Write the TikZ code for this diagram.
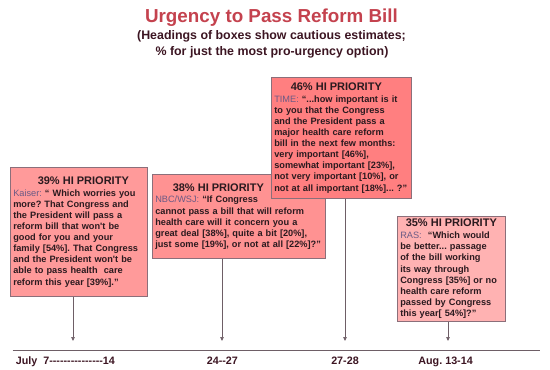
\documentclass[tikz,border=0pt]{standalone}
\usepackage{fontspec}
\usetikzlibrary{arrows.meta}
\newfontfamily\lsans{Liberation Sans}
\setlength{\parindent}{0pt}
\frenchspacing
\definecolor{titlered}{HTML}{C4424E}
\definecolor{subtxt}{HTML}{3C1522}
\definecolor{bodytxt}{HTML}{2B1A1F}
\definecolor{srcgray}{HTML}{6B5A85}
\definecolor{boxline}{HTML}{8B6F7A}
\definecolor{axisgray}{HTML}{6E5E66}
\definecolor{kaiserpink}{HTML}{FF9A9A}
\definecolor{nbcpink}{HTML}{FF9292}
\definecolor{timepink}{HTML}{FF7F80}
\definecolor{raspink}{HTML}{FFB2B2}
% heading of a box, optional shift
\newcommand\hd[2][0pt]{{\centering\fontsize{11}{13}\selectfont\hspace*{#1}#2\hspace*{-#1}\par}\vspace{0.8pt}}
\newcommand\src[1]{{\mdseries\color{srcgray}#1}}
% plain hyphen, no dash ligature
\newcommand\hy{-\kern0pt}
\begin{document}
\begin{tikzpicture}[x=1pt,y=-1pt,
  box/.style={draw=boxline, line width=0.6pt, anchor=north west, align=left,
    inner xsep=3pt, inner ysep=0pt, text=bodytxt,
    font=\lsans\bfseries\fontsize{9.2}{11.1}\selectfont},
  conn/.style={draw=axisgray, line width=0.7pt, -{Triangle[length=4pt,width=3.5pt]}},
  datelbl/.style={anchor=base, text=subtxt, font=\lsans\bfseries\fontsize{10.75}{13}\selectfont}]
\useasboundingbox (0,0) rectangle (550,370);
% title
\node[anchor=base, text=titlered, font=\lsans\bfseries\fontsize{18.8}{22}\selectfont] (title) at (271.5,22.8) {Urgency to Pass Reform Bill};
\node[anchor=base, text=subtxt, font=\lsans\bfseries\fontsize{12.4}{15}\selectfont] (sub1) at (271.5,39.6) {(Headings of boxes show cautious estimates;};
\node[anchor=base, text=subtxt, font=\lsans\bfseries\fontsize{12.4}{15}\selectfont] (sub2) at (272,55.4) {\% for just the most pro\hy urgency option)};
% poll boxes
\node[box, fill=kaiserpink, text width=131pt, minimum height=129pt] (kaiser) at (10,167) {\hd[4.5pt]{39\% HI PRIORITY}\src{Kaiser:} “ Which worries you\\ more? That Congress and\\ the President will pass a\\ reform bill that won't be\\ good for you and your\\ family [54\%]. That Congress\\ and the President won't be\\ able to pass health\ \ care\\ reform this year [39\%].”};
\node[box, fill=nbcpink, text width=167pt, minimum height=84pt] (nbc) at (152,174) {\hd[-20.5pt]{38\% HI PRIORITY}\src{NBC/WSJ:} “If Congress\\ cannot pass a bill that will reform\\ health care will it concern you a\\ great deal [38\%], quite a bit [20\%],\\ just some [19\%], or not at all [22\%]?”};
\node[box, fill=timepink, text width=134pt, minimum height=121pt] (time) at (271,77) {\hd[-5pt]{46\% HI PRIORITY}\src{TIME:} “...how important is it\\ to you that the Congress\\ and the President pass a\\ major health care reform\\ bill in the next few months:\\ very important [46\%],\\ somewhat important [23\%],\\ not very important [10\%], or\\ not at all important [18\%]... ?”};
\node[box, fill=raspink, text width=102pt, minimum height=105pt] (ras) at (397,216) {\hd{35\% HI PRIORITY}\src{RAS:}\ \ “Which would\\ be better... passage\\ of the bill working\\ its way through\\ Congress [35\%] or no\\ health care reform\\ passed by Congress\\ this year[ 54\%]?”};
% time axis
\coordinate (axl) at (12.6,350);
\coordinate (axr) at (540,350);
\draw[axisgray, line width=0.8pt] (axl) -- (axr);
\coordinate (t1) at (73,341);
\coordinate (t2) at (222,341);
\coordinate (t3) at (345,341);
\coordinate (t4) at (448,341);
\draw[conn] (kaiser.south -| t1) -- (t1);
\draw[conn] (nbc.south -| t2) -- (t2);
\draw[conn] (time.south -| t3) -- (t3);
\draw[conn] (ras.south -| t4) -- (t4);
\node[datelbl] (d1) at (65.4,364.5) {July\ \ 7\hy\hy\hy\hy\hy\hy\hy\hy\hy\hy\hy\hy\hy\hy\hy 14};
\node[datelbl] (d2) at (222.4,364.5) {24\hy\hy 27};
\node[datelbl] (d3) at (345,364.5) {27\hy 28};
\node[datelbl] (d4) at (445.6,364.5) {Aug. 13\hy 14};
\end{tikzpicture}
\end{document}
